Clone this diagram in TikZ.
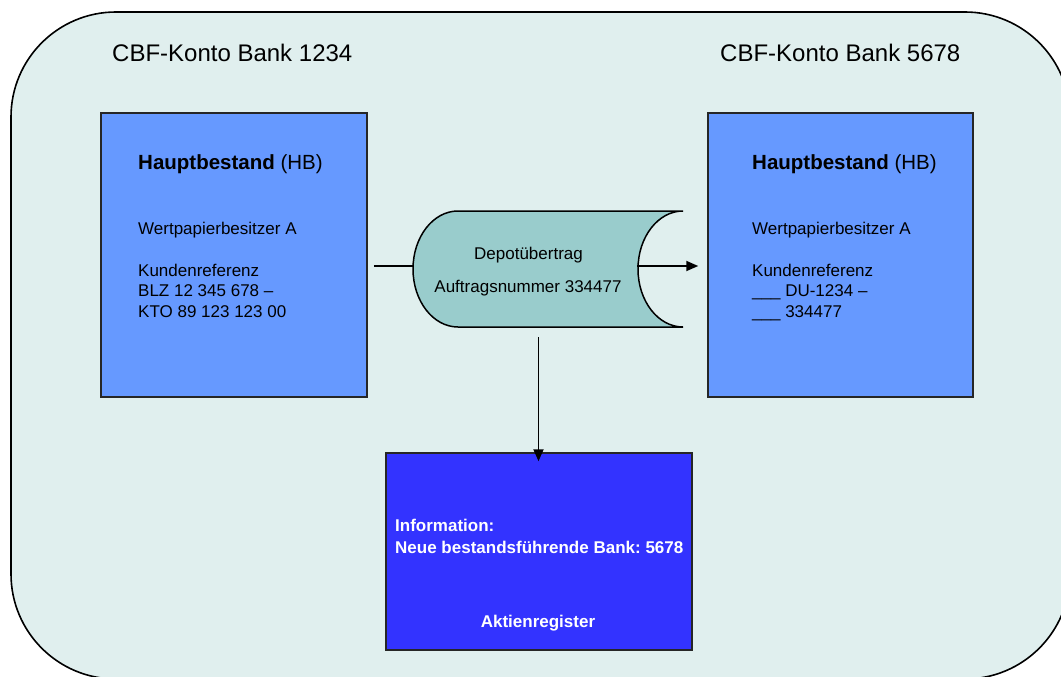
\documentclass[tikz,border=0pt]{standalone}
\usepackage{fontspec}
\setmainfont{Liberation Sans}
\usetikzlibrary{arrows.meta}
\definecolor{bgc}{HTML}{E0EFEE}
\definecolor{boxc}{HTML}{6699FF}
\definecolor{regc}{HTML}{3333FF}
\definecolor{storc}{HTML}{99CCCC}
\frenchspacing
\begin{document}
\begin{tikzpicture}[x=1pt,y=-1pt,
  txt/.style={inner sep=0pt, anchor=base west, font=\fontsize{17}{20}\selectfont},
  head/.style={inner sep=0pt, anchor=base west, font=\fontsize{20.5}{24}\selectfont},
  title/.style={inner sep=0pt, anchor=base west, font=\fontsize{24}{29}\selectfont},
  wtxt/.style={inner sep=0pt, anchor=base west, text=white, font=\fontsize{17}{20}\selectfont\bfseries},
  hbbox/.style={draw=black!85, line width=1.5pt, fill=boxc},
  conn/.style={line width=1.8pt, -{Triangle[length=12pt,width=10pt]}},
  plain/.style={line width=1.8pt}]
\useasboundingbox (0,0) rectangle (1061,677);
\clip (0,0) rectangle (1061,677);
% outer rounded frame
\draw[fill=bgc, line width=1.6pt, rounded corners=105pt] (11,12) rectangle (1070,679);
% titles
\node[title] (t1) at (112,61.5) {CBF-Konto Bank 1234};
\node[title] (t2) at (720,61.5) {CBF-Konto Bank 5678};
% left box
\node[hbbox, minimum width=266pt, minimum height=284pt, inner sep=0pt] (lb) at (234,255) {};
\node[head] (l1) at (138,169) {\textbf{Hauptbestand} (HB)};
\node[txt] (l2) at (138,234) {Wertpapierbesitzer A};
\node[txt] (l3) at (138,276) {Kundenreferenz};
\node[txt] (l4) at (138,296.7) {BLZ 12 345 678 –};
\node[txt] (l5) at (138,317.3) {KTO 89 123 123 00};
% right box
\node[hbbox, minimum width=265pt, minimum height=284pt, inner sep=0pt] (rb) at (840.5,255) {};
\node[head] (r1) at (752,169) {\textbf{Hauptbestand} (HB)};
\node[txt] (r2) at (752,234) {Wertpapierbesitzer A};
\node[txt] (r3) at (752,276) {Kundenreferenz};
\node[txt] (r4) at (752,296.7) {\_\_\_ DU-1234 –};
\node[txt] (r5) at (752,317.3) {\_\_\_ 334477};
% stored data shape
\draw[fill=storc, line width=1.5pt] (458,211) -- (683,211)
  .. controls (658.1,211) and (638,237) .. (638,269)
  .. controls (638,301) and (658.1,327) .. (683,327)
  -- (458,327)
  .. controls (433.1,327) and (413,301) .. (413,269)
  .. controls (413,237) and (433.1,211) .. (458,211) -- cycle;
\coordinate (sL) at (414,266);
\coordinate (sR) at (637,266);
\coordinate (sB) at (538.5,337);
\node[inner sep=0pt, anchor=base, font=\fontsize{17}{20}\selectfont] (d1) at (528.5,259) {Depotübertrag};
\node[inner sep=0pt, anchor=base, font=\fontsize{17}{20}\selectfont] (d2) at (528,292.5) {Auftragsnummer 334477};
% bottom box
\node[draw=black!85, line width=1.5pt, fill=regc, minimum width=306pt, minimum height=197pt, inner sep=0pt] (bb) at (539,551.5) {};
\node[wtxt] (b1) at (395,531.5) {Information:};
\node[wtxt] (b2) at (395,553) {Neue bestandsführende Bank: 5678};
\node[wtxt, anchor=base] (b3) at (538,627) {Aktienregister};
% connectors
\draw[plain] ([xshift=6pt]lb.east |- sL) -- (sL);
\draw[conn] (sR) -- ([xshift=-9pt]rb.west |- sR);
\draw[conn] (sB) -- ([yshift=-9pt]bb.north -| sB);
\end{tikzpicture}
\end{document}
